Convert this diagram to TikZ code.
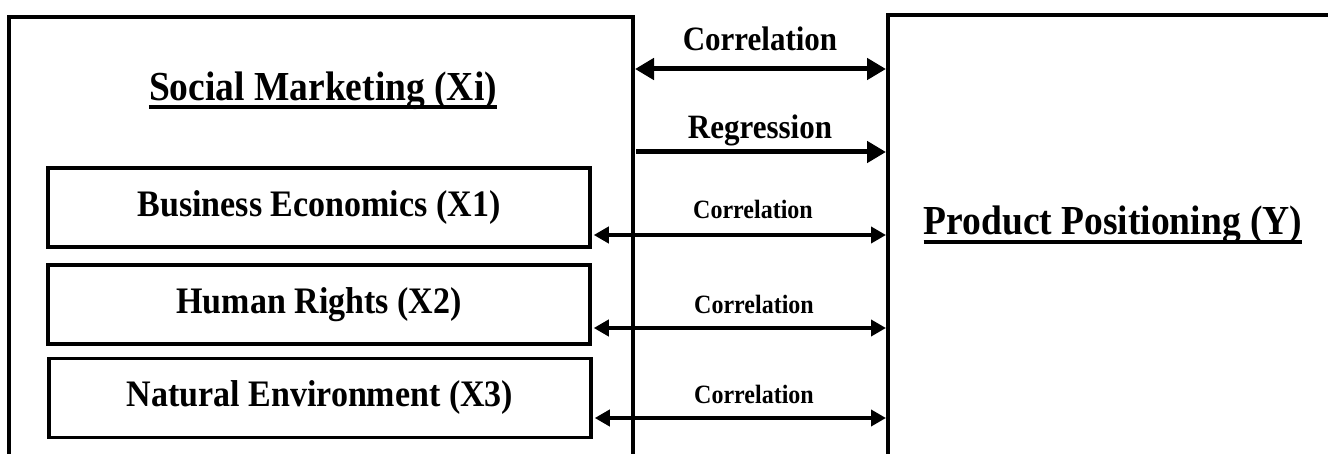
\documentclass[tikz,border=0pt]{standalone}
\usepackage{fontspec}
\usepackage{graphicx}
\setmainfont{Liberation Serif}
\usetikzlibrary{arrows.meta}
% slightly tall lettering
\newcommand{\tallfont}[1]{\scalebox{1}[1.1]{#1}}
\begin{document}
\begin{tikzpicture}[x=1pt,y=-1pt,
  frame/.style={line width=3.5pt},
  itembox/.style={draw,line width=3.5pt,minimum width=542pt,minimum height=79pt,
    inner sep=0pt,font=\fontsize{34}{40}\selectfont\bfseries},
  heading/.style={font=\fontsize{37.5}{44}\selectfont\bfseries,inner sep=0pt,anchor=base},
  ruleline/.style={line width=3.5pt},
  biglabel/.style={font=\fontsize{31}{36}\selectfont\bfseries,inner sep=0pt,anchor=base},
  smalllabel/.style={font=\fontsize{24}{28}\selectfont\bfseries,inner sep=0pt,anchor=base},
  bigtip/.tip={Triangle[length=19pt,width=21pt]},
  smalltip/.tip={Triangle[length=15pt,width=16pt]},
  bigarrow/.style={line width=5pt},
  smallarrow/.style={line width=3.8pt},
]
\useasboundingbox (0,0) rectangle (1328,454);
\clip (0,0) rectangle (1328,454);
\fill[white] (0,0) rectangle (1328,454);

% outer frames (open at the bottom / right)
\draw[frame] (9,470) -- (9,17) -- (633,17) -- (633,470);
\draw[frame] (888,470) -- (888,15) -- (1340,15);

% headings
\node[heading] (sm) at (323,101) {\tallfont{Social Marketing (Xi)}};
\draw[ruleline] ([yshift=-6pt]sm.base west) -- ([yshift=-6pt]sm.base east);
\node[heading] (pp) at (1113,235) {\tallfont{Product Positioning (Y)}};
\draw[ruleline] ([yshift=-7pt]pp.base west) -- ([yshift=-7pt]pp.base east);

% dimension boxes
\node[itembox] (b1) at (319,207.5) {\tallfont{Business Economics (X1)}};
\node[itembox] (b2) at (319,304.5) {\tallfont{Human Rights (X2)}};
\node[itembox] (b3) at (320,398) {\tallfont{Natural Environment (X3)}};

% connection points on the frames
\coordinate (l0) at (635,69);
\coordinate (r0) at (886,69);
\coordinate (l1) at (636,152);
\coordinate (r1) at (886,152);
\coordinate (r2) at (886,235);
\coordinate (r3) at (886,328);
\coordinate (r4) at (886,418);

% overall relations
\draw[bigarrow,{bigtip}-{bigtip}] (l0) -- (r0);
\node[biglabel] (c0) at (760,51) {\tallfont{Correlation}};
\draw[bigarrow,-{bigtip}] (l1) -- (r1);
\node[biglabel] (rg) at (760,139) {\tallfont{Regression}};

% per-dimension correlations
\draw[smallarrow,{smalltip}-{smalltip},shorten <=2pt] (b1.east |- r2) -- (r2);
\node[smalllabel] (c1) at (753,219) {\tallfont{Correlation}};
\draw[smallarrow,{smalltip}-{smalltip},shorten <=2pt] (b2.east |- r3) -- (r3);
\node[smalllabel] (c2) at (754,313) {\tallfont{Correlation}};
\draw[smallarrow,{smalltip}-{smalltip},shorten <=2pt] (b3.east |- r4) -- (r4);
\node[smalllabel] (c3) at (754,403) {\tallfont{Correlation}};
\end{tikzpicture}
\end{document}
